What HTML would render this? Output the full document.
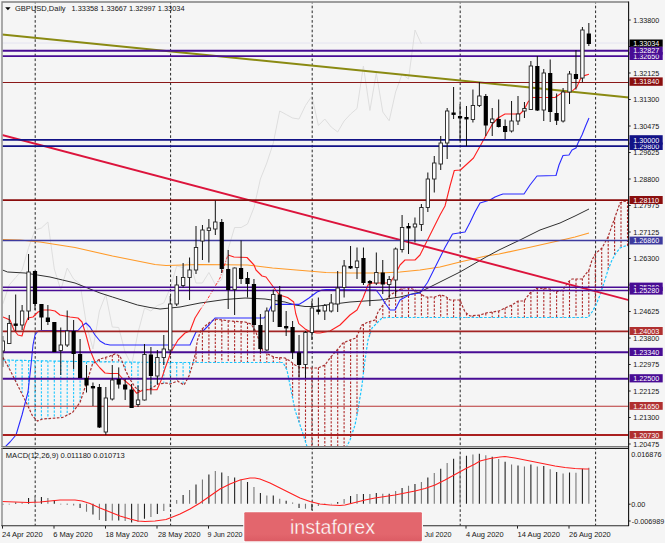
<!DOCTYPE html>
<html><head><meta charset="utf-8"><title>GBPUSD Daily</title>
<style>html,body{margin:0;padding:0;background:#f5f5f5;overflow:hidden}svg text{white-space:pre}</style></head>
<body>
<svg width="665" height="543" viewBox="0 0 665 543" style="display:block;font-family:'Liberation Sans',sans-serif">
<rect width="665" height="543" fill="#f5f5f5"/>
<defs><clipPath id="m"><rect x="2.6" y="2.6" width="625.6" height="443.4"/></clipPath><clipPath id="d"><rect x="2.6" y="449" width="625.6" height="76.4"/></clipPath></defs>
<g clip-path="url(#m)">
<line x1="2" x2="629" y1="43" y2="43" stroke="#e4e4f0" stroke-width="1"/>
<polyline points="2.8,304.0 9.2,285.0 15.7,277.5 22.1,270.0 28.6,247.5 35.0,230.0 41.4,228.0 47.9,222.0 54.3,269.0 60.8,290.0 67.2,268.0 73.6,279.0 80.1,284.0 86.5,325.0 93.0,349.0 99.4,311.0 105.8,294.5 112.3,327.0 118.7,327.5 125.2,352.5 131.6,365.0 138.0,332.5 144.5,308.0 150.9,311.0 157.4,305.5 163.8,303.0 170.2,288.0 176.7,266.0 183.1,267.5 189.6,261.0 196.0,283.0 202.4,283.0 208.9,272.5 215.3,284.5 221.8,279.5 228.2,249.0 234.6,227.5 241.1,227.5 247.5,224.0 254.0,207.5 260.4,179.0 266.8,163.0 273.3,143.0 279.7,111.0 286.2,114.5 292.6,118.0 299.0,119.0 305.5,105.5 311.9,96.0 318.4,125.5 324.8,119.0 331.2,127.0 337.7,132.0 344.1,121.0 350.6,114.0 357.0,108.5 363.4,66.0 369.9,110.5 376.3,73.0 382.8,112.0 389.2,120.8 395.6,92.0 402.1,74.0 408.5,79.0 415.0,30.0 421.4,44.0" fill="none" stroke="#dedede" stroke-width="1"/>
<line x1="35.2" x2="35.2" y1="2" y2="447" stroke="#262626" stroke-width="1" stroke-dasharray="2.6 2.2" stroke-dashoffset="1.1"/>
<line x1="170.6" x2="170.6" y1="2" y2="447" stroke="#262626" stroke-width="1" stroke-dasharray="2.6 2.2" stroke-dashoffset="1.1"/>
<line x1="312.2" x2="312.2" y1="2" y2="447" stroke="#262626" stroke-width="1" stroke-dasharray="2.6 2.2" stroke-dashoffset="1.1"/>
<line x1="460.2" x2="460.2" y1="2" y2="447" stroke="#262626" stroke-width="1" stroke-dasharray="2.6 2.2" stroke-dashoffset="1.1"/>
<line x1="595.6" x2="595.6" y1="2" y2="447" stroke="#262626" stroke-width="1" stroke-dasharray="2.6 2.2" stroke-dashoffset="1.1"/>
<line x1="2.8" x2="2.8" y1="357.5" y2="360.0" stroke="#ae2828" stroke-width="1.1" stroke-dasharray="2.3 1.5"/>
<line x1="9.2" x2="9.2" y1="360.1" y2="368.6" stroke="#1cc6ff" stroke-width="1.1" stroke-dasharray="2.3 1.5"/>
<line x1="15.7" x2="15.7" y1="360.3" y2="381.4" stroke="#1cc6ff" stroke-width="1.1" stroke-dasharray="2.3 1.5"/>
<line x1="22.1" x2="22.1" y1="360.4" y2="394.2" stroke="#1cc6ff" stroke-width="1.1" stroke-dasharray="2.3 1.5"/>
<line x1="28.6" x2="28.6" y1="360.5" y2="407.3" stroke="#1cc6ff" stroke-width="1.1" stroke-dasharray="2.3 1.5"/>
<line x1="35.0" x2="35.0" y1="360.7" y2="418.5" stroke="#1cc6ff" stroke-width="1.1" stroke-dasharray="2.3 1.5"/>
<line x1="41.4" x2="41.4" y1="360.8" y2="419.4" stroke="#1cc6ff" stroke-width="1.1" stroke-dasharray="2.3 1.5"/>
<line x1="47.9" x2="47.9" y1="360.9" y2="418.6" stroke="#1cc6ff" stroke-width="1.1" stroke-dasharray="2.3 1.5"/>
<line x1="54.3" x2="54.3" y1="361.1" y2="418.1" stroke="#1cc6ff" stroke-width="1.1" stroke-dasharray="2.3 1.5"/>
<line x1="60.8" x2="60.8" y1="361.2" y2="417.6" stroke="#1cc6ff" stroke-width="1.1" stroke-dasharray="2.3 1.5"/>
<line x1="67.2" x2="67.2" y1="361.3" y2="415.1" stroke="#1cc6ff" stroke-width="1.1" stroke-dasharray="2.3 1.5"/>
<line x1="73.6" x2="73.6" y1="361.5" y2="411.0" stroke="#1cc6ff" stroke-width="1.1" stroke-dasharray="2.3 1.5"/>
<line x1="80.1" x2="80.1" y1="361.5" y2="402.3" stroke="#1cc6ff" stroke-width="1.1" stroke-dasharray="2.3 1.5"/>
<line x1="86.5" x2="86.5" y1="361.6" y2="382.9" stroke="#1cc6ff" stroke-width="1.1" stroke-dasharray="2.3 1.5"/>
<line x1="93.0" x2="93.0" y1="361.7" y2="363.7" stroke="#1cc6ff" stroke-width="1.1" stroke-dasharray="2.3 1.5"/>
<line x1="99.4" x2="99.4" y1="359.4" y2="361.8" stroke="#ae2828" stroke-width="1.1" stroke-dasharray="2.3 1.5"/>
<line x1="105.8" x2="105.8" y1="357.2" y2="361.9" stroke="#ae2828" stroke-width="1.1" stroke-dasharray="2.3 1.5"/>
<line x1="112.3" x2="112.3" y1="355.1" y2="361.9" stroke="#ae2828" stroke-width="1.1" stroke-dasharray="2.3 1.5"/>
<line x1="118.7" x2="118.7" y1="355.5" y2="362.0" stroke="#ae2828" stroke-width="1.1" stroke-dasharray="2.3 1.5"/>
<line x1="125.2" x2="125.2" y1="362.1" y2="369.4" stroke="#1cc6ff" stroke-width="1.1" stroke-dasharray="2.3 1.5"/>
<line x1="131.6" x2="131.6" y1="362.2" y2="381.8" stroke="#1cc6ff" stroke-width="1.1" stroke-dasharray="2.3 1.5"/>
<line x1="138.0" x2="138.0" y1="362.2" y2="390.0" stroke="#1cc6ff" stroke-width="1.1" stroke-dasharray="2.3 1.5"/>
<line x1="144.5" x2="144.5" y1="362.3" y2="390.1" stroke="#1cc6ff" stroke-width="1.1" stroke-dasharray="2.3 1.5"/>
<line x1="150.9" x2="150.9" y1="362.4" y2="388.4" stroke="#1cc6ff" stroke-width="1.1" stroke-dasharray="2.3 1.5"/>
<line x1="157.4" x2="157.4" y1="362.5" y2="384.4" stroke="#1cc6ff" stroke-width="1.1" stroke-dasharray="2.3 1.5"/>
<line x1="163.8" x2="163.8" y1="362.5" y2="383.3" stroke="#1cc6ff" stroke-width="1.1" stroke-dasharray="2.3 1.5"/>
<line x1="170.2" x2="170.2" y1="362.5" y2="383.9" stroke="#1cc6ff" stroke-width="1.1" stroke-dasharray="2.3 1.5"/>
<line x1="176.7" x2="176.7" y1="362.5" y2="381.3" stroke="#1cc6ff" stroke-width="1.1" stroke-dasharray="2.3 1.5"/>
<line x1="183.1" x2="183.1" y1="362.5" y2="384.5" stroke="#1cc6ff" stroke-width="1.1" stroke-dasharray="2.3 1.5"/>
<line x1="189.6" x2="189.6" y1="362.5" y2="374.2" stroke="#1cc6ff" stroke-width="1.1" stroke-dasharray="2.3 1.5"/>
<line x1="196.0" x2="196.0" y1="349.0" y2="362.5" stroke="#ae2828" stroke-width="1.1" stroke-dasharray="2.3 1.5"/>
<line x1="202.4" x2="202.4" y1="328.7" y2="362.5" stroke="#ae2828" stroke-width="1.1" stroke-dasharray="2.3 1.5"/>
<line x1="208.9" x2="208.9" y1="323.1" y2="362.5" stroke="#ae2828" stroke-width="1.1" stroke-dasharray="2.3 1.5"/>
<line x1="215.3" x2="215.3" y1="319.0" y2="362.5" stroke="#ae2828" stroke-width="1.1" stroke-dasharray="2.3 1.5"/>
<line x1="221.8" x2="221.8" y1="319.9" y2="362.5" stroke="#ae2828" stroke-width="1.1" stroke-dasharray="2.3 1.5"/>
<line x1="228.2" x2="228.2" y1="320.8" y2="362.5" stroke="#ae2828" stroke-width="1.1" stroke-dasharray="2.3 1.5"/>
<line x1="234.6" x2="234.6" y1="321.3" y2="362.5" stroke="#ae2828" stroke-width="1.1" stroke-dasharray="2.3 1.5"/>
<line x1="241.1" x2="241.1" y1="321.7" y2="362.5" stroke="#ae2828" stroke-width="1.1" stroke-dasharray="2.3 1.5"/>
<line x1="247.5" x2="247.5" y1="322.8" y2="362.5" stroke="#ae2828" stroke-width="1.1" stroke-dasharray="2.3 1.5"/>
<line x1="254.0" x2="254.0" y1="328.4" y2="362.5" stroke="#ae2828" stroke-width="1.1" stroke-dasharray="2.3 1.5"/>
<line x1="260.4" x2="260.4" y1="344.0" y2="362.5" stroke="#ae2828" stroke-width="1.1" stroke-dasharray="2.3 1.5"/>
<line x1="266.8" x2="266.8" y1="353.5" y2="362.5" stroke="#ae2828" stroke-width="1.1" stroke-dasharray="2.3 1.5"/>
<line x1="273.3" x2="273.3" y1="356.7" y2="362.5" stroke="#ae2828" stroke-width="1.1" stroke-dasharray="2.3 1.5"/>
<line x1="279.7" x2="279.7" y1="357.7" y2="362.5" stroke="#ae2828" stroke-width="1.1" stroke-dasharray="2.3 1.5"/>
<line x1="286.2" x2="286.2" y1="358.7" y2="368.4" stroke="#ae2828" stroke-width="1.1" stroke-dasharray="2.3 1.5"/>
<line x1="292.6" x2="292.6" y1="363.1" y2="398.0" stroke="#ae2828" stroke-width="1.1" stroke-dasharray="2.3 1.5"/>
<line x1="299.0" x2="299.0" y1="367.0" y2="422.1" stroke="#ae2828" stroke-width="1.1" stroke-dasharray="2.3 1.5"/>
<line x1="305.5" x2="305.5" y1="367.8" y2="441.6" stroke="#ae2828" stroke-width="1.1" stroke-dasharray="2.3 1.5"/>
<line x1="311.9" x2="311.9" y1="368.0" y2="454.4" stroke="#ae2828" stroke-width="1.1" stroke-dasharray="2.3 1.5"/>
<line x1="318.4" x2="318.4" y1="367.8" y2="461.5" stroke="#ae2828" stroke-width="1.1" stroke-dasharray="2.3 1.5"/>
<line x1="324.8" x2="324.8" y1="365.1" y2="468.7" stroke="#ae2828" stroke-width="1.1" stroke-dasharray="2.3 1.5"/>
<line x1="331.2" x2="331.2" y1="356.6" y2="464.5" stroke="#ae2828" stroke-width="1.1" stroke-dasharray="2.3 1.5"/>
<line x1="337.7" x2="337.7" y1="349.2" y2="457.7" stroke="#ae2828" stroke-width="1.1" stroke-dasharray="2.3 1.5"/>
<line x1="344.1" x2="344.1" y1="342.5" y2="450.9" stroke="#ae2828" stroke-width="1.1" stroke-dasharray="2.3 1.5"/>
<line x1="350.6" x2="350.6" y1="339.8" y2="438.3" stroke="#ae2828" stroke-width="1.1" stroke-dasharray="2.3 1.5"/>
<line x1="357.0" x2="357.0" y1="335.8" y2="415.0" stroke="#ae2828" stroke-width="1.1" stroke-dasharray="2.3 1.5"/>
<line x1="363.4" x2="363.4" y1="324.3" y2="373.0" stroke="#ae2828" stroke-width="1.1" stroke-dasharray="2.3 1.5"/>
<line x1="369.9" x2="369.9" y1="321.5" y2="334.4" stroke="#ae2828" stroke-width="1.1" stroke-dasharray="2.3 1.5"/>
<line x1="376.3" x2="376.3" y1="316.5" y2="323.7" stroke="#ae2828" stroke-width="1.1" stroke-dasharray="2.3 1.5"/>
<line x1="382.8" x2="382.8" y1="305.3" y2="317.9" stroke="#ae2828" stroke-width="1.1" stroke-dasharray="2.3 1.5"/>
<line x1="389.2" x2="389.2" y1="296.1" y2="317.5" stroke="#ae2828" stroke-width="1.1" stroke-dasharray="2.3 1.5"/>
<line x1="395.6" x2="395.6" y1="291.8" y2="317.5" stroke="#ae2828" stroke-width="1.1" stroke-dasharray="2.3 1.5"/>
<line x1="402.1" x2="402.1" y1="288.5" y2="317.5" stroke="#ae2828" stroke-width="1.1" stroke-dasharray="2.3 1.5"/>
<line x1="408.5" x2="408.5" y1="288.0" y2="317.5" stroke="#ae2828" stroke-width="1.1" stroke-dasharray="2.3 1.5"/>
<line x1="415.0" x2="415.0" y1="290.0" y2="317.5" stroke="#ae2828" stroke-width="1.1" stroke-dasharray="2.3 1.5"/>
<line x1="421.4" x2="421.4" y1="294.1" y2="317.5" stroke="#ae2828" stroke-width="1.1" stroke-dasharray="2.3 1.5"/>
<line x1="427.8" x2="427.8" y1="297.0" y2="317.5" stroke="#ae2828" stroke-width="1.1" stroke-dasharray="2.3 1.5"/>
<line x1="434.3" x2="434.3" y1="297.0" y2="317.5" stroke="#ae2828" stroke-width="1.1" stroke-dasharray="2.3 1.5"/>
<line x1="440.7" x2="440.7" y1="295.1" y2="317.5" stroke="#ae2828" stroke-width="1.1" stroke-dasharray="2.3 1.5"/>
<line x1="447.2" x2="447.2" y1="297.7" y2="317.5" stroke="#ae2828" stroke-width="1.1" stroke-dasharray="2.3 1.5"/>
<line x1="453.6" x2="453.6" y1="300.0" y2="317.5" stroke="#ae2828" stroke-width="1.1" stroke-dasharray="2.3 1.5"/>
<line x1="460.0" x2="460.0" y1="300.1" y2="317.5" stroke="#ae2828" stroke-width="1.1" stroke-dasharray="2.3 1.5"/>
<line x1="466.5" x2="466.5" y1="313.2" y2="317.5" stroke="#ae2828" stroke-width="1.1" stroke-dasharray="2.3 1.5"/>
<line x1="472.9" x2="472.9" y1="315.7" y2="317.5" stroke="#ae2828" stroke-width="1.1" stroke-dasharray="2.3 1.5"/>
<line x1="479.4" x2="479.4" y1="315.1" y2="317.5" stroke="#ae2828" stroke-width="1.1" stroke-dasharray="2.3 1.5"/>
<line x1="485.8" x2="485.8" y1="313.1" y2="317.5" stroke="#ae2828" stroke-width="1.1" stroke-dasharray="2.3 1.5"/>
<line x1="492.2" x2="492.2" y1="312.0" y2="317.5" stroke="#ae2828" stroke-width="1.1" stroke-dasharray="2.3 1.5"/>
<line x1="498.7" x2="498.7" y1="311.0" y2="317.5" stroke="#ae2828" stroke-width="1.1" stroke-dasharray="2.3 1.5"/>
<line x1="505.1" x2="505.1" y1="307.9" y2="317.5" stroke="#ae2828" stroke-width="1.1" stroke-dasharray="2.3 1.5"/>
<line x1="511.6" x2="511.6" y1="305.2" y2="317.5" stroke="#ae2828" stroke-width="1.1" stroke-dasharray="2.3 1.5"/>
<line x1="518.0" x2="518.0" y1="301.0" y2="317.5" stroke="#ae2828" stroke-width="1.1" stroke-dasharray="2.3 1.5"/>
<line x1="524.4" x2="524.4" y1="300.4" y2="317.5" stroke="#ae2828" stroke-width="1.1" stroke-dasharray="2.3 1.5"/>
<line x1="530.9" x2="530.9" y1="292.4" y2="317.5" stroke="#ae2828" stroke-width="1.1" stroke-dasharray="2.3 1.5"/>
<line x1="537.3" x2="537.3" y1="288.0" y2="317.5" stroke="#ae2828" stroke-width="1.1" stroke-dasharray="2.3 1.5"/>
<line x1="543.8" x2="543.8" y1="288.5" y2="317.5" stroke="#ae2828" stroke-width="1.1" stroke-dasharray="2.3 1.5"/>
<line x1="550.2" x2="550.2" y1="289.1" y2="317.5" stroke="#ae2828" stroke-width="1.1" stroke-dasharray="2.3 1.5"/>
<line x1="556.6" x2="556.6" y1="291.8" y2="317.5" stroke="#ae2828" stroke-width="1.1" stroke-dasharray="2.3 1.5"/>
<line x1="563.1" x2="563.1" y1="289.9" y2="317.5" stroke="#ae2828" stroke-width="1.1" stroke-dasharray="2.3 1.5"/>
<line x1="569.5" x2="569.5" y1="280.9" y2="317.5" stroke="#ae2828" stroke-width="1.1" stroke-dasharray="2.3 1.5"/>
<line x1="576.0" x2="576.0" y1="279.0" y2="317.5" stroke="#ae2828" stroke-width="1.1" stroke-dasharray="2.3 1.5"/>
<line x1="582.4" x2="582.4" y1="278.5" y2="317.5" stroke="#ae2828" stroke-width="1.1" stroke-dasharray="2.3 1.5"/>
<line x1="588.8" x2="588.8" y1="270.2" y2="316.3" stroke="#ae2828" stroke-width="1.1" stroke-dasharray="2.3 1.5"/>
<line x1="595.3" x2="595.3" y1="254.3" y2="306.3" stroke="#ae2828" stroke-width="1.1" stroke-dasharray="2.3 1.5"/>
<line x1="601.7" x2="601.7" y1="248.2" y2="289.8" stroke="#ae2828" stroke-width="1.1" stroke-dasharray="2.3 1.5"/>
<line x1="608.2" x2="608.2" y1="236.5" y2="269.6" stroke="#ae2828" stroke-width="1.1" stroke-dasharray="2.3 1.5"/>
<line x1="614.6" x2="614.6" y1="218.3" y2="255.4" stroke="#ae2828" stroke-width="1.1" stroke-dasharray="2.3 1.5"/>
<line x1="621.0" x2="621.0" y1="202.6" y2="247.6" stroke="#ae2828" stroke-width="1.1" stroke-dasharray="2.3 1.5"/>
<line x1="627.5" x2="627.5" y1="201.8" y2="246.0" stroke="#ae2828" stroke-width="1.1" stroke-dasharray="2.3 1.5"/>
<polyline points="3.0,360.0 76.0,361.5 160.0,362.5 283.0,362.5 287.0,370.0 290.0,385.0 295.0,410.0 300.0,425.0 305.0,440.0 308.0,450.0 326.0,470.0 345.0,450.0 350.0,440.0 355.0,425.0 358.0,410.0 362.0,385.0 365.0,360.0 368.0,340.0 372.0,328.0 378.0,322.0 382.0,318.0 388.0,317.5 588.0,317.5 592.0,312.0 596.0,305.0 600.0,295.0 604.0,283.0 608.0,270.0 612.0,260.0 616.0,253.0 620.0,248.0 625.0,246.0 628.0,246.0" fill="none" stroke="#1cc6ff" stroke-width="1.2" stroke-dasharray="2.6 1.6"/>
<polyline points="3.0,357.5 10.0,370.0 20.0,390.0 27.5,405.0 32.5,416.0 37.5,421.0 42.5,419.0 62.5,417.5 72.5,412.5 80.0,402.5 87.5,380.0 92.5,364.0 100.0,359.0 110.0,356.0 115.0,354.0 120.0,356.0 125.6,370.5 129.6,378.6 134.7,386.7 138.7,390.7 146.0,390.0 152.0,388.0 158.0,384.0 166.0,383.0 170.0,384.0 177.5,381.0 184.0,385.0 189.0,376.0 192.5,365.0 195.0,355.0 197.5,340.0 201.0,330.0 207.5,324.0 215.0,319.0 230.0,321.0 245.0,322.0 251.0,324.0 255.0,330.0 259.0,340.0 262.5,350.0 267.5,354.0 275.0,357.5 285.0,358.0 290.0,361.0 295.0,365.0 300.0,367.5 310.0,368.0 318.0,368.0 325.0,365.0 330.0,358.0 337.0,350.0 343.0,343.0 350.0,340.0 356.0,338.0 362.0,325.0 368.0,322.0 375.0,320.0 378.0,312.0 383.0,305.0 390.0,295.0 397.0,291.0 403.0,288.0 410.0,288.0 415.0,290.0 420.0,293.0 425.0,297.0 435.0,297.0 440.0,295.0 445.0,296.0 450.0,300.0 460.0,300.0 462.0,305.0 465.0,312.0 470.0,316.0 480.0,315.0 486.0,313.0 499.0,311.0 505.0,308.0 512.0,305.0 518.0,301.0 524.0,301.0 530.0,293.0 537.0,288.0 550.0,289.0 556.0,292.0 563.0,290.0 568.0,282.0 572.0,279.0 582.0,279.0 585.0,275.0 589.0,270.0 592.0,260.0 596.0,253.0 602.0,248.0 608.0,237.0 614.0,220.0 620.0,203.0 625.0,201.0 628.0,202.0" fill="none" stroke="#a83030" stroke-width="1.2" stroke-dasharray="2.6 1.6"/>
<polyline points="2.5,239.5 20.0,240.0 40.0,242.0 75.0,247.5 112.5,256.0 137.5,261.0 155.0,264.5 166.0,265.5 200.0,264.5 247.5,265.0 272.5,268.0 326.0,272.5 350.0,273.0 380.0,273.0 400.0,272.0 420.0,270.0 440.0,267.0 460.0,262.0 486.0,256.0 499.0,254.0 520.0,249.5 540.0,245.0 560.0,240.5 575.0,237.0 589.0,233.0" fill="none" stroke="#ff9a28" stroke-width="1.1"/>
<polyline points="2.5,270.0 7.5,272.0 25.0,273.0 37.5,275.0 50.0,277.0 62.5,280.0 75.0,283.0 87.5,288.0 100.0,293.0 112.5,297.0 125.0,301.0 137.5,305.0 150.0,307.5 160.0,309.0 180.0,307.0 200.0,303.0 225.0,299.5 245.0,298.0 265.0,299.0 285.0,302.0 295.0,305.0 305.0,306.5 315.0,306.5 326.0,305.0 350.0,302.0 380.0,300.0 400.0,297.0 420.0,292.0 440.0,282.0 460.0,272.0 486.0,257.0 499.0,250.0 520.0,240.0 540.0,230.0 560.0,223.0 575.0,216.0 589.0,209.0" fill="none" stroke="#303030" stroke-width="1"/>
<polyline points="5.0,447.0 10.0,442.0 16.0,435.0 22.0,415.0 28.0,392.0 31.0,365.0 33.0,345.0 35.0,335.0 38.0,331.0 42.0,330.5 78.0,330.5 82.0,326.0 86.0,323.0 90.0,327.0 95.0,335.0 100.0,341.0 105.0,344.0 110.0,345.0 190.0,345.0 196.0,332.0 203.0,331.0 209.0,325.0 215.0,318.0 264.0,318.0 268.0,313.0 272.0,304.4 298.8,304.4 303.0,302.0 309.0,298.0 317.0,292.0 322.0,290.0 326.0,289.5 376.0,290.0 380.0,295.0 385.0,303.0 390.0,310.0 395.0,310.0 400.0,300.0 410.0,294.5 420.0,293.0 427.5,282.5 437.5,262.5 445.0,247.5 452.5,234.0 465.0,232.0 470.0,222.5 475.0,212.0 480.0,203.0 490.0,200.0 495.0,197.0 500.0,195.0 503.0,194.0 524.0,194.0 530.0,185.0 537.0,176.0 556.0,175.5 559.0,165.0 563.0,155.5 569.0,155.0 572.0,150.0 576.0,148.0 578.0,143.0 582.0,135.0 586.0,125.0 589.0,118.0" fill="none" stroke="#2a2aff" stroke-width="1.1" stroke-linejoin="round"/>
<polyline points="3.0,317.0 10.0,320.0 14.0,330.0 18.0,335.0 22.0,336.0 25.0,325.0 28.0,318.0 33.0,317.0 38.0,312.0 43.0,310.0 50.0,310.0 55.0,311.0 60.0,315.0 70.0,317.0 78.0,318.0 82.0,322.0 86.0,335.0 90.0,350.0 95.0,362.0 100.0,368.0 105.0,373.0 110.0,373.5 118.0,373.5 124.0,380.0 130.7,385.7 136.7,393.3 141.0,391.0 146.0,389.7 157.0,389.7 161.0,380.6 165.0,368.5 171.0,352.0 178.0,340.0 185.0,333.0 190.0,331.0 195.0,318.0 200.0,310.0" fill="none" stroke="#ff2020" stroke-width="1.1" stroke-linejoin="round"/>
<polyline points="200.0,310.0 207.0,300.0 213.0,290.0 220.0,278.0 228.0,255.0" fill="none" stroke="#ff2020" stroke-width="0.9" stroke-dasharray="3 1.6 1 1.6"/>
<polyline points="228.0,255.0 234.0,257.0 247.0,257.5 254.0,265.0 256.0,270.0 262.0,276.0 266.0,277.0 273.4,287.0 279.5,295.0 287.6,297.5 293.7,302.0 295.7,313.5 298.8,323.6 304.8,328.7 310.0,331.7 317.0,333.0 320.0,333.0 330.0,331.0 340.0,325.0 350.0,315.0 357.0,310.0 363.0,298.0 368.0,285.0 372.0,283.0 390.0,283.0 395.0,275.0 400.0,265.0 405.0,260.0 415.0,260.0 420.0,255.0 425.0,245.0 430.0,235.0 435.0,225.0 440.0,215.0 445.0,206.0 450.0,186.0 454.3,170.5 460.4,170.0 467.0,164.0 473.5,158.0 481.0,144.5 488.7,130.6 492.8,123.5 498.0,118.0 505.0,114.0 520.0,114.0 524.0,110.0 528.0,102.0 532.0,97.5 555.0,97.5 562.5,92.4 571.5,91.7 576.7,87.2 580.5,78.8 584.4,75.6 589.0,74.2" fill="none" stroke="#ff2020" stroke-width="1.1" stroke-linejoin="round"/>
<line x1="2" y1="34.5" x2="629" y2="97.4" stroke="#8a8a12" stroke-width="2"/>
<line x1="2" y1="135" x2="629" y2="300.2" stroke="#dc143c" stroke-width="1.9"/>
<line x1="2" x2="629" y1="50.7" y2="50.7" stroke="#480c94" stroke-width="1.9"/>
<line x1="2" x2="629" y1="56.1" y2="56.1" stroke="#480c94" stroke-width="1.9"/>
<line x1="2" x2="629" y1="82.5" y2="82.5" stroke="#8a1818" stroke-width="1.1"/>
<line x1="2" x2="629" y1="139.9" y2="139.9" stroke="#121286" stroke-width="1.8"/>
<line x1="2" x2="629" y1="146.1" y2="146.1" stroke="#121286" stroke-width="1.6"/>
<line x1="2" x2="629" y1="200.2" y2="200.2" stroke="#8a0c0c" stroke-width="1.8"/>
<line x1="2" x2="629" y1="240.6" y2="240.6" stroke="#3d3a9e" stroke-width="1.5"/>
<line x1="2" x2="629" y1="287.2" y2="287.2" stroke="#480c94" stroke-width="1.5"/>
<line x1="2" x2="629" y1="290.5" y2="290.5" stroke="#480c94" stroke-width="1.5"/>
<line x1="2" x2="629" y1="331.4" y2="331.4" stroke="#a22424" stroke-width="1.7"/>
<line x1="2" x2="629" y1="352.2" y2="352.2" stroke="#480c94" stroke-width="2.0"/>
<line x1="2" x2="629" y1="378.8" y2="378.8" stroke="#480c94" stroke-width="2.0"/>
<line x1="2" x2="629" y1="406.2" y2="406.2" stroke="#b83434" stroke-width="1.1"/>
<line x1="2" x2="629" y1="435" y2="435" stroke="#aa2020" stroke-width="2.0"/>
<line x1="2.80" x2="2.80" y1="336.0" y2="367.0" stroke="#111" stroke-width="1"/>
<rect x="1.10" y="341.0" width="3.4" height="10.0" fill="#fff" stroke="#222" stroke-width="0.9"/>
<line x1="9.24" x2="9.24" y1="315.0" y2="344.0" stroke="#111" stroke-width="1"/>
<rect x="7.54" y="323.5" width="3.4" height="20.0" fill="#fff" stroke="#222" stroke-width="0.9"/>
<line x1="15.68" x2="15.68" y1="294.5" y2="331.0" stroke="#111" stroke-width="1"/>
<rect x="13.58" y="323.5" width="4.2" height="2.4" fill="#000"/>
<line x1="22.12" x2="22.12" y1="305.0" y2="330.0" stroke="#111" stroke-width="1"/>
<rect x="20.42" y="311.0" width="3.4" height="14.0" fill="#fff" stroke="#222" stroke-width="0.9"/>
<line x1="28.56" x2="28.56" y1="254.0" y2="320.0" stroke="#111" stroke-width="1"/>
<rect x="26.86" y="272.0" width="3.4" height="39.0" fill="#fff" stroke="#222" stroke-width="0.9"/>
<line x1="35.00" x2="35.00" y1="271.0" y2="310.0" stroke="#111" stroke-width="1"/>
<rect x="32.90" y="271.0" width="4.2" height="33.0" fill="#000"/>
<line x1="41.44" x2="41.44" y1="304.0" y2="330.0" stroke="#111" stroke-width="1"/>
<rect x="39.34" y="304.0" width="4.2" height="13.5" fill="#000"/>
<line x1="47.88" x2="47.88" y1="305.0" y2="325.0" stroke="#111" stroke-width="1"/>
<rect x="45.78" y="317.5" width="4.2" height="4.5" fill="#000"/>
<line x1="54.32" x2="54.32" y1="322.0" y2="352.0" stroke="#111" stroke-width="1"/>
<rect x="52.22" y="322.0" width="4.2" height="30.0" fill="#000"/>
<line x1="60.76" x2="60.76" y1="327.5" y2="375.0" stroke="#111" stroke-width="1"/>
<rect x="59.06" y="345.0" width="3.4" height="5.5" fill="#fff" stroke="#222" stroke-width="0.9"/>
<line x1="67.20" x2="67.20" y1="310.5" y2="347.0" stroke="#111" stroke-width="1"/>
<rect x="65.50" y="331.0" width="3.4" height="14.0" fill="#fff" stroke="#222" stroke-width="0.9"/>
<line x1="73.64" x2="73.64" y1="320.0" y2="369.0" stroke="#111" stroke-width="1"/>
<rect x="71.54" y="331.0" width="4.2" height="23.0" fill="#000"/>
<line x1="80.08" x2="80.08" y1="339.0" y2="378.0" stroke="#111" stroke-width="1"/>
<rect x="77.98" y="354.0" width="4.2" height="24.0" fill="#000"/>
<line x1="86.52" x2="86.52" y1="365.0" y2="392.5" stroke="#111" stroke-width="1"/>
<rect x="84.42" y="378.0" width="4.2" height="7.5" fill="#000"/>
<line x1="92.96" x2="92.96" y1="382.5" y2="406.0" stroke="#111" stroke-width="1"/>
<rect x="90.86" y="386.0" width="4.2" height="2.4" fill="#000"/>
<line x1="99.40" x2="99.40" y1="384.0" y2="428.0" stroke="#111" stroke-width="1"/>
<rect x="97.30" y="387.0" width="4.2" height="40.5" fill="#000"/>
<line x1="105.84" x2="105.84" y1="387.0" y2="435.0" stroke="#111" stroke-width="1"/>
<rect x="104.14" y="398.0" width="3.4" height="34.0" fill="#fff" stroke="#222" stroke-width="0.9"/>
<line x1="112.28" x2="112.28" y1="365.0" y2="400.5" stroke="#111" stroke-width="1"/>
<rect x="110.58" y="380.0" width="3.4" height="19.0" fill="#fff" stroke="#222" stroke-width="0.9"/>
<line x1="118.72" x2="118.72" y1="367.4" y2="388.6" stroke="#111" stroke-width="1"/>
<rect x="116.62" y="379.0" width="4.2" height="5.6" fill="#000"/>
<line x1="125.16" x2="125.16" y1="379.0" y2="400.0" stroke="#111" stroke-width="1"/>
<rect x="123.06" y="384.5" width="4.2" height="5.0" fill="#000"/>
<line x1="131.60" x2="131.60" y1="384.0" y2="408.0" stroke="#111" stroke-width="1"/>
<rect x="129.50" y="389.5" width="4.2" height="18.5" fill="#000"/>
<line x1="138.04" x2="138.04" y1="385.5" y2="407.0" stroke="#111" stroke-width="1"/>
<rect x="136.34" y="400.0" width="3.4" height="4.5" fill="#fff" stroke="#222" stroke-width="0.9"/>
<line x1="144.48" x2="144.48" y1="344.0" y2="400.5" stroke="#111" stroke-width="1"/>
<rect x="142.78" y="354.5" width="3.4" height="45.5" fill="#fff" stroke="#222" stroke-width="0.9"/>
<line x1="150.92" x2="150.92" y1="347.0" y2="394.5" stroke="#111" stroke-width="1"/>
<rect x="148.82" y="354.5" width="4.2" height="21.5" fill="#000"/>
<line x1="157.36" x2="157.36" y1="350.0" y2="384.5" stroke="#111" stroke-width="1"/>
<rect x="155.66" y="357.5" width="3.4" height="18.5" fill="#fff" stroke="#222" stroke-width="0.9"/>
<line x1="163.80" x2="163.80" y1="335.0" y2="365.0" stroke="#111" stroke-width="1"/>
<rect x="162.10" y="349.0" width="3.4" height="8.5" fill="#fff" stroke="#222" stroke-width="0.9"/>
<line x1="170.24" x2="170.24" y1="296.0" y2="355.0" stroke="#111" stroke-width="1"/>
<rect x="168.54" y="304.0" width="3.4" height="46.0" fill="#fff" stroke="#222" stroke-width="0.9"/>
<line x1="176.68" x2="176.68" y1="276.0" y2="306.0" stroke="#111" stroke-width="1"/>
<rect x="174.98" y="285.0" width="3.4" height="19.0" fill="#fff" stroke="#222" stroke-width="0.9"/>
<line x1="183.12" x2="183.12" y1="263.0" y2="287.5" stroke="#111" stroke-width="1"/>
<rect x="181.42" y="277.5" width="3.4" height="8.0" fill="#fff" stroke="#222" stroke-width="0.9"/>
<line x1="189.56" x2="189.56" y1="257.5" y2="300.0" stroke="#111" stroke-width="1"/>
<rect x="187.86" y="270.0" width="3.4" height="7.5" fill="#fff" stroke="#222" stroke-width="0.9"/>
<line x1="196.00" x2="196.00" y1="226.0" y2="274.0" stroke="#111" stroke-width="1"/>
<rect x="194.30" y="247.5" width="3.4" height="22.5" fill="#fff" stroke="#222" stroke-width="0.9"/>
<line x1="202.44" x2="202.44" y1="225.0" y2="260.0" stroke="#111" stroke-width="1"/>
<rect x="200.74" y="230.0" width="3.4" height="11.0" fill="#fff" stroke="#222" stroke-width="0.9"/>
<line x1="208.88" x2="208.88" y1="219.0" y2="262.5" stroke="#111" stroke-width="1"/>
<rect x="207.18" y="228.0" width="3.4" height="2.4" fill="#fff" stroke="#222" stroke-width="0.9"/>
<line x1="215.32" x2="215.32" y1="200.5" y2="235.0" stroke="#111" stroke-width="1"/>
<rect x="213.62" y="222.0" width="3.4" height="7.0" fill="#fff" stroke="#222" stroke-width="0.9"/>
<line x1="221.76" x2="221.76" y1="219.0" y2="273.0" stroke="#111" stroke-width="1"/>
<rect x="219.66" y="222.0" width="4.2" height="47.0" fill="#000"/>
<line x1="228.20" x2="228.20" y1="250.0" y2="309.0" stroke="#111" stroke-width="1"/>
<rect x="226.10" y="269.0" width="4.2" height="21.0" fill="#000"/>
<line x1="234.64" x2="234.64" y1="267.5" y2="315.0" stroke="#111" stroke-width="1"/>
<rect x="232.94" y="268.0" width="3.4" height="21.5" fill="#fff" stroke="#222" stroke-width="0.9"/>
<line x1="241.08" x2="241.08" y1="240.5" y2="284.0" stroke="#111" stroke-width="1"/>
<rect x="238.98" y="268.0" width="4.2" height="11.0" fill="#000"/>
<line x1="247.52" x2="247.52" y1="272.0" y2="297.5" stroke="#111" stroke-width="1"/>
<rect x="245.42" y="278.0" width="4.2" height="6.0" fill="#000"/>
<line x1="253.96" x2="253.96" y1="279.0" y2="331.0" stroke="#111" stroke-width="1"/>
<rect x="251.86" y="284.0" width="4.2" height="41.0" fill="#000"/>
<line x1="260.40" x2="260.40" y1="314.0" y2="352.5" stroke="#111" stroke-width="1"/>
<rect x="258.30" y="325.0" width="4.2" height="24.0" fill="#000"/>
<line x1="266.84" x2="266.84" y1="307.5" y2="351.0" stroke="#111" stroke-width="1"/>
<rect x="265.14" y="311.0" width="3.4" height="39.0" fill="#fff" stroke="#222" stroke-width="0.9"/>
<line x1="273.28" x2="273.28" y1="289.5" y2="322.0" stroke="#111" stroke-width="1"/>
<rect x="271.58" y="294.5" width="3.4" height="16.5" fill="#fff" stroke="#222" stroke-width="0.9"/>
<line x1="279.72" x2="279.72" y1="286.0" y2="327.0" stroke="#111" stroke-width="1"/>
<rect x="277.62" y="294.5" width="4.2" height="32.5" fill="#000"/>
<line x1="286.16" x2="286.16" y1="311.0" y2="336.0" stroke="#111" stroke-width="1"/>
<rect x="284.06" y="326.0" width="4.2" height="2.4" fill="#000"/>
<line x1="292.60" x2="292.60" y1="321.0" y2="359.0" stroke="#111" stroke-width="1"/>
<rect x="290.50" y="327.0" width="4.2" height="25.5" fill="#000"/>
<line x1="299.04" x2="299.04" y1="335.0" y2="377.5" stroke="#111" stroke-width="1"/>
<rect x="296.94" y="352.5" width="4.2" height="12.5" fill="#000"/>
<line x1="305.48" x2="305.48" y1="331.0" y2="378.0" stroke="#111" stroke-width="1"/>
<rect x="303.78" y="332.5" width="3.4" height="32.0" fill="#fff" stroke="#222" stroke-width="0.9"/>
<line x1="311.92" x2="311.92" y1="301.0" y2="340.0" stroke="#111" stroke-width="1"/>
<rect x="310.22" y="308.0" width="3.4" height="24.5" fill="#fff" stroke="#222" stroke-width="0.9"/>
<line x1="318.36" x2="318.36" y1="297.5" y2="314.5" stroke="#111" stroke-width="1"/>
<rect x="316.26" y="309.5" width="4.2" height="2.4" fill="#000"/>
<line x1="324.80" x2="324.80" y1="304.0" y2="320.0" stroke="#111" stroke-width="1"/>
<rect x="323.10" y="305.5" width="3.4" height="5.5" fill="#fff" stroke="#222" stroke-width="0.9"/>
<line x1="331.24" x2="331.24" y1="294.0" y2="312.5" stroke="#111" stroke-width="1"/>
<rect x="329.54" y="303.0" width="3.4" height="8.0" fill="#fff" stroke="#222" stroke-width="0.9"/>
<line x1="337.68" x2="337.68" y1="271.0" y2="312.0" stroke="#111" stroke-width="1"/>
<rect x="335.98" y="288.0" width="3.4" height="16.0" fill="#fff" stroke="#222" stroke-width="0.9"/>
<line x1="344.12" x2="344.12" y1="260.0" y2="297.5" stroke="#111" stroke-width="1"/>
<rect x="342.42" y="266.0" width="3.4" height="21.5" fill="#fff" stroke="#222" stroke-width="0.9"/>
<line x1="350.56" x2="350.56" y1="246.0" y2="269.0" stroke="#111" stroke-width="1"/>
<rect x="348.46" y="266.0" width="4.2" height="2.4" fill="#000"/>
<line x1="357.00" x2="357.00" y1="247.5" y2="279.0" stroke="#111" stroke-width="1"/>
<rect x="355.30" y="261.0" width="3.4" height="6.5" fill="#fff" stroke="#222" stroke-width="0.9"/>
<line x1="363.44" x2="363.44" y1="247.5" y2="285.0" stroke="#111" stroke-width="1"/>
<rect x="361.34" y="258.0" width="4.2" height="25.0" fill="#000"/>
<line x1="369.88" x2="369.88" y1="280.0" y2="306.0" stroke="#111" stroke-width="1"/>
<rect x="367.78" y="281.0" width="4.2" height="2.4" fill="#000"/>
<line x1="376.32" x2="376.32" y1="252.5" y2="285.0" stroke="#111" stroke-width="1"/>
<rect x="374.62" y="272.5" width="3.4" height="10.5" fill="#fff" stroke="#222" stroke-width="0.9"/>
<line x1="382.76" x2="382.76" y1="260.0" y2="294.0" stroke="#111" stroke-width="1"/>
<rect x="380.66" y="272.5" width="4.2" height="12.0" fill="#000"/>
<line x1="389.20" x2="389.20" y1="276.0" y2="297.5" stroke="#111" stroke-width="1"/>
<rect x="387.50" y="279.5" width="3.4" height="5.0" fill="#fff" stroke="#222" stroke-width="0.9"/>
<line x1="395.64" x2="395.64" y1="247.5" y2="296.0" stroke="#111" stroke-width="1"/>
<rect x="393.94" y="249.0" width="3.4" height="31.0" fill="#fff" stroke="#222" stroke-width="0.9"/>
<line x1="402.08" x2="402.08" y1="215.0" y2="252.5" stroke="#111" stroke-width="1"/>
<rect x="400.38" y="227.5" width="3.4" height="22.0" fill="#fff" stroke="#222" stroke-width="0.9"/>
<line x1="408.52" x2="408.52" y1="223.0" y2="254.0" stroke="#111" stroke-width="1"/>
<rect x="406.42" y="226.0" width="4.2" height="2.4" fill="#000"/>
<line x1="414.96" x2="414.96" y1="217.5" y2="242.5" stroke="#111" stroke-width="1"/>
<rect x="413.26" y="224.0" width="3.4" height="3.0" fill="#fff" stroke="#222" stroke-width="0.9"/>
<line x1="421.40" x2="421.40" y1="204.0" y2="231.0" stroke="#111" stroke-width="1"/>
<rect x="419.70" y="207.5" width="3.4" height="17.0" fill="#fff" stroke="#222" stroke-width="0.9"/>
<line x1="427.84" x2="427.84" y1="172.5" y2="212.0" stroke="#111" stroke-width="1"/>
<rect x="426.14" y="179.0" width="3.4" height="28.5" fill="#fff" stroke="#222" stroke-width="0.9"/>
<line x1="434.28" x2="434.28" y1="156.0" y2="192.5" stroke="#111" stroke-width="1"/>
<rect x="432.58" y="163.0" width="3.4" height="16.0" fill="#fff" stroke="#222" stroke-width="0.9"/>
<line x1="440.72" x2="440.72" y1="136.0" y2="170.0" stroke="#111" stroke-width="1"/>
<rect x="439.02" y="143.0" width="3.4" height="21.0" fill="#fff" stroke="#222" stroke-width="0.9"/>
<line x1="447.16" x2="447.16" y1="108.0" y2="159.0" stroke="#111" stroke-width="1"/>
<rect x="445.46" y="111.0" width="3.4" height="32.0" fill="#fff" stroke="#222" stroke-width="0.9"/>
<line x1="453.60" x2="453.60" y1="87.0" y2="119.0" stroke="#111" stroke-width="1"/>
<rect x="451.50" y="112.5" width="4.2" height="2.4" fill="#000"/>
<line x1="460.04" x2="460.04" y1="104.0" y2="141.0" stroke="#111" stroke-width="1"/>
<rect x="457.94" y="116.0" width="4.2" height="2.4" fill="#000"/>
<line x1="466.48" x2="466.48" y1="106.0" y2="146.0" stroke="#111" stroke-width="1"/>
<rect x="464.38" y="117.0" width="4.2" height="2.4" fill="#000"/>
<line x1="472.92" x2="472.92" y1="89.5" y2="122.5" stroke="#111" stroke-width="1"/>
<rect x="471.22" y="105.5" width="3.4" height="14.0" fill="#fff" stroke="#222" stroke-width="0.9"/>
<line x1="479.36" x2="479.36" y1="82.0" y2="107.0" stroke="#111" stroke-width="1"/>
<rect x="477.66" y="96.0" width="3.4" height="9.5" fill="#fff" stroke="#222" stroke-width="0.9"/>
<line x1="485.80" x2="485.80" y1="94.0" y2="136.0" stroke="#111" stroke-width="1"/>
<rect x="483.70" y="96.0" width="4.2" height="29.5" fill="#000"/>
<line x1="492.24" x2="492.24" y1="108.0" y2="136.0" stroke="#111" stroke-width="1"/>
<rect x="490.54" y="119.0" width="3.4" height="3.5" fill="#fff" stroke="#222" stroke-width="0.9"/>
<line x1="498.68" x2="498.68" y1="99.5" y2="127.5" stroke="#111" stroke-width="1"/>
<rect x="496.58" y="119.0" width="4.2" height="8.0" fill="#000"/>
<line x1="505.12" x2="505.12" y1="119.5" y2="139.0" stroke="#111" stroke-width="1"/>
<rect x="503.02" y="126.0" width="4.2" height="6.0" fill="#000"/>
<line x1="511.56" x2="511.56" y1="101.0" y2="132.5" stroke="#111" stroke-width="1"/>
<rect x="509.86" y="121.0" width="3.4" height="10.0" fill="#fff" stroke="#222" stroke-width="0.9"/>
<line x1="518.00" x2="518.00" y1="96.0" y2="125.0" stroke="#111" stroke-width="1"/>
<rect x="516.30" y="114.0" width="3.4" height="7.0" fill="#fff" stroke="#222" stroke-width="0.9"/>
<line x1="524.44" x2="524.44" y1="102.0" y2="118.0" stroke="#111" stroke-width="1"/>
<rect x="522.74" y="108.5" width="3.4" height="2.5" fill="#fff" stroke="#222" stroke-width="0.9"/>
<line x1="530.88" x2="530.88" y1="61.0" y2="110.0" stroke="#111" stroke-width="1"/>
<rect x="529.18" y="66.0" width="3.4" height="43.5" fill="#fff" stroke="#222" stroke-width="0.9"/>
<line x1="537.32" x2="537.32" y1="56.0" y2="111.0" stroke="#111" stroke-width="1"/>
<rect x="535.22" y="66.0" width="4.2" height="44.5" fill="#000"/>
<line x1="543.76" x2="543.76" y1="69.0" y2="121.0" stroke="#111" stroke-width="1"/>
<rect x="542.06" y="73.0" width="3.4" height="37.0" fill="#fff" stroke="#222" stroke-width="0.9"/>
<line x1="550.20" x2="550.20" y1="59.5" y2="122.0" stroke="#111" stroke-width="1"/>
<rect x="548.10" y="73.0" width="4.2" height="39.0" fill="#000"/>
<line x1="556.64" x2="556.64" y1="93.5" y2="125.0" stroke="#111" stroke-width="1"/>
<rect x="554.54" y="113.0" width="4.2" height="7.8" fill="#000"/>
<line x1="563.08" x2="563.08" y1="88.0" y2="122.5" stroke="#111" stroke-width="1"/>
<rect x="561.38" y="92.0" width="3.4" height="29.0" fill="#fff" stroke="#222" stroke-width="0.9"/>
<line x1="569.52" x2="569.52" y1="71.0" y2="104.0" stroke="#111" stroke-width="1"/>
<rect x="567.82" y="74.0" width="3.4" height="18.0" fill="#fff" stroke="#222" stroke-width="0.9"/>
<line x1="575.96" x2="575.96" y1="50.0" y2="89.5" stroke="#111" stroke-width="1"/>
<rect x="573.86" y="74.0" width="4.2" height="5.0" fill="#000"/>
<line x1="582.40" x2="582.40" y1="27.0" y2="82.0" stroke="#111" stroke-width="1"/>
<rect x="580.70" y="30.0" width="3.4" height="48.0" fill="#fff" stroke="#222" stroke-width="0.9"/>
<line x1="588.84" x2="588.84" y1="23.0" y2="46.0" stroke="#111" stroke-width="1"/>
<rect x="586.74" y="33.5" width="4.2" height="10.5" fill="#000"/>
</g>
<g clip-path="url(#d)">
<line x1="35.2" x2="35.2" y1="448" y2="526" stroke="#262626" stroke-width="1" stroke-dasharray="2.6 2.2" stroke-dashoffset="1.1"/>
<line x1="170.6" x2="170.6" y1="448" y2="526" stroke="#262626" stroke-width="1" stroke-dasharray="2.6 2.2" stroke-dashoffset="1.1"/>
<line x1="312.2" x2="312.2" y1="448" y2="526" stroke="#262626" stroke-width="1" stroke-dasharray="2.6 2.2" stroke-dashoffset="1.1"/>
<line x1="460.2" x2="460.2" y1="448" y2="526" stroke="#262626" stroke-width="1" stroke-dasharray="2.6 2.2" stroke-dashoffset="1.1"/>
<line x1="595.6" x2="595.6" y1="448" y2="526" stroke="#262626" stroke-width="1" stroke-dasharray="2.6 2.2" stroke-dashoffset="1.1"/>
<line x1="2.80" x2="2.80" y1="503.75" y2="504.8" stroke="#222" stroke-width="1.1"/>
<line x1="9.24" x2="9.24" y1="503.75" y2="504.6" stroke="#777" stroke-width="1.1"/>
<line x1="15.68" x2="15.68" y1="502.5" y2="503.75" stroke="#222" stroke-width="1.1"/>
<line x1="22.12" x2="22.12" y1="502.5" y2="503.75" stroke="#777" stroke-width="1.1"/>
<line x1="28.56" x2="28.56" y1="498" y2="503.75" stroke="#222" stroke-width="1.1"/>
<line x1="35.00" x2="35.00" y1="496" y2="503.75" stroke="#777" stroke-width="1.1"/>
<line x1="41.44" x2="41.44" y1="497" y2="503.75" stroke="#222" stroke-width="1.1"/>
<line x1="47.88" x2="47.88" y1="498" y2="503.75" stroke="#777" stroke-width="1.1"/>
<line x1="54.32" x2="54.32" y1="500" y2="503.75" stroke="#222" stroke-width="1.1"/>
<line x1="60.76" x2="60.76" y1="503.75" y2="504.55" stroke="#777" stroke-width="1.1"/>
<line x1="67.20" x2="67.20" y1="503.75" y2="504.55" stroke="#222" stroke-width="1.1"/>
<line x1="73.64" x2="73.64" y1="503.75" y2="505.5" stroke="#777" stroke-width="1.1"/>
<line x1="80.08" x2="80.08" y1="503.75" y2="508" stroke="#222" stroke-width="1.1"/>
<line x1="86.52" x2="86.52" y1="503.75" y2="511.75" stroke="#777" stroke-width="1.1"/>
<line x1="92.96" x2="92.96" y1="503.75" y2="514.5" stroke="#222" stroke-width="1.1"/>
<line x1="99.40" x2="99.40" y1="503.75" y2="520" stroke="#777" stroke-width="1.1"/>
<line x1="105.84" x2="105.84" y1="503.75" y2="521" stroke="#222" stroke-width="1.1"/>
<line x1="112.28" x2="112.28" y1="503.75" y2="520.5" stroke="#777" stroke-width="1.1"/>
<line x1="118.72" x2="118.72" y1="503.75" y2="520.5" stroke="#222" stroke-width="1.1"/>
<line x1="125.16" x2="125.16" y1="503.75" y2="521" stroke="#777" stroke-width="1.1"/>
<line x1="131.60" x2="131.60" y1="503.75" y2="522.5" stroke="#222" stroke-width="1.1"/>
<line x1="138.04" x2="138.04" y1="503.75" y2="522" stroke="#777" stroke-width="1.1"/>
<line x1="144.48" x2="144.48" y1="503.75" y2="518.75" stroke="#222" stroke-width="1.1"/>
<line x1="150.92" x2="150.92" y1="503.75" y2="517" stroke="#777" stroke-width="1.1"/>
<line x1="157.36" x2="157.36" y1="503.75" y2="514" stroke="#222" stroke-width="1.1"/>
<line x1="163.80" x2="163.80" y1="503.75" y2="511" stroke="#777" stroke-width="1.1"/>
<line x1="170.24" x2="170.24" y1="503.75" y2="507" stroke="#222" stroke-width="1.1"/>
<line x1="176.68" x2="176.68" y1="500" y2="503.75" stroke="#777" stroke-width="1.1"/>
<line x1="183.12" x2="183.12" y1="495" y2="503.75" stroke="#222" stroke-width="1.1"/>
<line x1="189.56" x2="189.56" y1="490" y2="503.75" stroke="#777" stroke-width="1.1"/>
<line x1="196.00" x2="196.00" y1="484.5" y2="503.75" stroke="#222" stroke-width="1.1"/>
<line x1="202.44" x2="202.44" y1="479.5" y2="503.75" stroke="#777" stroke-width="1.1"/>
<line x1="208.88" x2="208.88" y1="474.5" y2="503.75" stroke="#222" stroke-width="1.1"/>
<line x1="215.32" x2="215.32" y1="471" y2="503.75" stroke="#777" stroke-width="1.1"/>
<line x1="221.76" x2="221.76" y1="472.5" y2="503.75" stroke="#222" stroke-width="1.1"/>
<line x1="228.20" x2="228.20" y1="476" y2="503.75" stroke="#777" stroke-width="1.1"/>
<line x1="234.64" x2="234.64" y1="477.5" y2="503.75" stroke="#222" stroke-width="1.1"/>
<line x1="241.08" x2="241.08" y1="479.5" y2="503.75" stroke="#777" stroke-width="1.1"/>
<line x1="247.52" x2="247.52" y1="482" y2="503.75" stroke="#222" stroke-width="1.1"/>
<line x1="253.96" x2="253.96" y1="487" y2="503.75" stroke="#777" stroke-width="1.1"/>
<line x1="260.40" x2="260.40" y1="493" y2="503.75" stroke="#222" stroke-width="1.1"/>
<line x1="266.84" x2="266.84" y1="495.5" y2="503.75" stroke="#777" stroke-width="1.1"/>
<line x1="273.28" x2="273.28" y1="495.5" y2="503.75" stroke="#222" stroke-width="1.1"/>
<line x1="279.72" x2="279.72" y1="498.75" y2="503.75" stroke="#777" stroke-width="1.1"/>
<line x1="286.16" x2="286.16" y1="500.75" y2="503.75" stroke="#222" stroke-width="1.1"/>
<line x1="292.60" x2="292.60" y1="502.5" y2="503.75" stroke="#777" stroke-width="1.1"/>
<line x1="299.04" x2="299.04" y1="503.75" y2="508" stroke="#222" stroke-width="1.1"/>
<line x1="305.48" x2="305.48" y1="503.75" y2="508.75" stroke="#777" stroke-width="1.1"/>
<line x1="311.92" x2="311.92" y1="503.75" y2="510" stroke="#222" stroke-width="1.1"/>
<line x1="318.36" x2="318.36" y1="503.75" y2="506" stroke="#777" stroke-width="1.1"/>
<line x1="324.80" x2="324.80" y1="503.75" y2="505" stroke="#222" stroke-width="1.1"/>
<line x1="331.24" x2="331.24" y1="503.75" y2="504.55" stroke="#777" stroke-width="1.1"/>
<line x1="337.68" x2="337.68" y1="502" y2="503.75" stroke="#222" stroke-width="1.1"/>
<line x1="344.12" x2="344.12" y1="499" y2="503.75" stroke="#777" stroke-width="1.1"/>
<line x1="350.56" x2="350.56" y1="496" y2="503.75" stroke="#222" stroke-width="1.1"/>
<line x1="357.00" x2="357.00" y1="494" y2="503.75" stroke="#777" stroke-width="1.1"/>
<line x1="363.44" x2="363.44" y1="494" y2="503.75" stroke="#222" stroke-width="1.1"/>
<line x1="369.88" x2="369.88" y1="494" y2="503.75" stroke="#777" stroke-width="1.1"/>
<line x1="376.32" x2="376.32" y1="493" y2="503.75" stroke="#222" stroke-width="1.1"/>
<line x1="382.76" x2="382.76" y1="493.75" y2="503.75" stroke="#777" stroke-width="1.1"/>
<line x1="389.20" x2="389.20" y1="493.75" y2="503.75" stroke="#222" stroke-width="1.1"/>
<line x1="395.64" x2="395.64" y1="491" y2="503.75" stroke="#777" stroke-width="1.1"/>
<line x1="402.08" x2="402.08" y1="488" y2="503.75" stroke="#222" stroke-width="1.1"/>
<line x1="408.52" x2="408.52" y1="485.75" y2="503.75" stroke="#777" stroke-width="1.1"/>
<line x1="414.96" x2="414.96" y1="484" y2="503.75" stroke="#222" stroke-width="1.1"/>
<line x1="421.40" x2="421.40" y1="482" y2="503.75" stroke="#777" stroke-width="1.1"/>
<line x1="427.84" x2="427.84" y1="477.5" y2="503.75" stroke="#222" stroke-width="1.1"/>
<line x1="434.28" x2="434.28" y1="473" y2="503.75" stroke="#777" stroke-width="1.1"/>
<line x1="440.72" x2="440.72" y1="468.75" y2="503.75" stroke="#222" stroke-width="1.1"/>
<line x1="447.16" x2="447.16" y1="463" y2="503.75" stroke="#777" stroke-width="1.1"/>
<line x1="453.60" x2="453.60" y1="458.75" y2="503.75" stroke="#222" stroke-width="1.1"/>
<line x1="460.04" x2="460.04" y1="455.75" y2="503.75" stroke="#777" stroke-width="1.1"/>
<line x1="466.48" x2="466.48" y1="455.75" y2="503.75" stroke="#222" stroke-width="1.1"/>
<line x1="472.92" x2="472.92" y1="454.5" y2="503.75" stroke="#777" stroke-width="1.1"/>
<line x1="479.36" x2="479.36" y1="453.75" y2="503.75" stroke="#222" stroke-width="1.1"/>
<line x1="485.80" x2="485.80" y1="455.3" y2="503.75" stroke="#777" stroke-width="1.1"/>
<line x1="492.24" x2="492.24" y1="456.7" y2="503.75" stroke="#222" stroke-width="1.1"/>
<line x1="498.68" x2="498.68" y1="459" y2="503.75" stroke="#777" stroke-width="1.1"/>
<line x1="505.12" x2="505.12" y1="461.7" y2="503.75" stroke="#222" stroke-width="1.1"/>
<line x1="511.56" x2="511.56" y1="464.5" y2="503.75" stroke="#777" stroke-width="1.1"/>
<line x1="518.00" x2="518.00" y1="465.6" y2="503.75" stroke="#222" stroke-width="1.1"/>
<line x1="524.44" x2="524.44" y1="466.4" y2="503.75" stroke="#777" stroke-width="1.1"/>
<line x1="530.88" x2="530.88" y1="464.5" y2="503.75" stroke="#222" stroke-width="1.1"/>
<line x1="537.32" x2="537.32" y1="466.4" y2="503.75" stroke="#777" stroke-width="1.1"/>
<line x1="543.76" x2="543.76" y1="465.9" y2="503.75" stroke="#222" stroke-width="1.1"/>
<line x1="550.20" x2="550.20" y1="469.2" y2="503.75" stroke="#777" stroke-width="1.1"/>
<line x1="556.64" x2="556.64" y1="472" y2="503.75" stroke="#222" stroke-width="1.1"/>
<line x1="563.08" x2="563.08" y1="473.4" y2="503.75" stroke="#777" stroke-width="1.1"/>
<line x1="569.52" x2="569.52" y1="472.5" y2="503.75" stroke="#222" stroke-width="1.1"/>
<line x1="575.96" x2="575.96" y1="472.8" y2="503.75" stroke="#777" stroke-width="1.1"/>
<line x1="582.40" x2="582.40" y1="468.7" y2="503.75" stroke="#222" stroke-width="1.1"/>
<line x1="588.84" x2="588.84" y1="467.8" y2="503.75" stroke="#777" stroke-width="1.1"/>
<polyline points="2.0,501.5 15.0,502.0 28.0,502.5 40.0,502.0 50.0,501.0 60.0,500.0 75.0,500.0 82.0,501.0 90.0,503.5 100.0,508.0 110.0,512.0 120.0,516.0 130.0,519.0 138.0,521.0 145.0,521.5 155.0,521.0 166.0,519.5 170.0,518.0 180.0,514.0 190.0,509.0 200.0,503.0 210.0,496.0 220.0,489.0 230.0,484.0 240.0,480.0 250.0,478.0 255.0,478.0 260.0,479.0 270.0,483.0 280.0,488.0 290.0,493.0 300.0,498.0 310.0,501.5 320.0,504.0 330.0,505.0 340.0,505.5 345.0,505.0 355.0,502.5 365.0,500.0 375.0,498.0 385.0,496.5 395.0,495.0 405.0,493.0 415.0,491.0 425.0,488.5 435.0,485.0 445.0,480.0 455.0,474.5 465.0,469.0 475.0,464.0 480.0,461.0 490.0,458.5 500.0,457.0 505.0,456.5 515.0,458.0 525.0,460.0 535.0,462.0 545.0,464.0 555.0,466.0 565.0,467.5 575.0,468.5 585.0,469.0 589.0,469.0" fill="none" stroke="#ff2020" stroke-width="1.1"/>
</g>
<path d="M2 447 V2 H628.6" fill="none" stroke="#808080" stroke-width="1.3"/>
<line x1="1.4" x2="629" y1="446.5" y2="446.5" stroke="#7c7c7c" stroke-width="1.1"/>
<line x1="1.4" x2="629" y1="448.3" y2="448.3" stroke="#1c1c1c" stroke-width="1.3"/>
<line x1="2" x2="2" y1="448" y2="526" stroke="#808080" stroke-width="1.3"/>
<line x1="1.4" x2="629" y1="525.7" y2="525.7" stroke="#2a2a2a" stroke-width="1.1"/>
<line x1="628.6" x2="628.6" y1="1.5" y2="526" stroke="#111" stroke-width="1.1"/>
<line x1="629" x2="630.7" y1="20.0" y2="20.0" stroke="#222" stroke-width="1"/>
<text x="633.2" y="22.8" font-size="7.5" fill="#161616" textLength="26" lengthAdjust="spacingAndGlyphs">1.33800</text>
<line x1="629" x2="630.7" y1="46.5" y2="46.5" stroke="#222" stroke-width="1"/>
<text x="633.2" y="49.3" font-size="7.5" fill="#161616" textLength="26" lengthAdjust="spacingAndGlyphs">1.32975</text>
<line x1="629" x2="630.7" y1="73.0" y2="73.0" stroke="#222" stroke-width="1"/>
<text x="633.2" y="75.8" font-size="7.5" fill="#161616" textLength="26" lengthAdjust="spacingAndGlyphs">1.32125</text>
<line x1="629" x2="630.7" y1="99.5" y2="99.5" stroke="#222" stroke-width="1"/>
<text x="633.2" y="102.3" font-size="7.5" fill="#161616" textLength="26" lengthAdjust="spacingAndGlyphs">1.31300</text>
<line x1="629" x2="630.7" y1="126.0" y2="126.0" stroke="#222" stroke-width="1"/>
<text x="633.2" y="128.8" font-size="7.5" fill="#161616" textLength="26" lengthAdjust="spacingAndGlyphs">1.30475</text>
<line x1="629" x2="630.7" y1="152.5" y2="152.5" stroke="#222" stroke-width="1"/>
<text x="633.2" y="155.3" font-size="7.5" fill="#161616" textLength="26" lengthAdjust="spacingAndGlyphs">1.29625</text>
<line x1="629" x2="630.7" y1="179.0" y2="179.0" stroke="#222" stroke-width="1"/>
<text x="633.2" y="181.8" font-size="7.5" fill="#161616" textLength="26" lengthAdjust="spacingAndGlyphs">1.28800</text>
<line x1="629" x2="630.7" y1="205.5" y2="205.5" stroke="#222" stroke-width="1"/>
<text x="633.2" y="208.3" font-size="7.5" fill="#161616" textLength="26" lengthAdjust="spacingAndGlyphs">1.27975</text>
<line x1="629" x2="630.7" y1="232.0" y2="232.0" stroke="#222" stroke-width="1"/>
<text x="633.2" y="234.8" font-size="7.5" fill="#161616" textLength="26" lengthAdjust="spacingAndGlyphs">1.27125</text>
<line x1="629" x2="630.7" y1="258.5" y2="258.5" stroke="#222" stroke-width="1"/>
<text x="633.2" y="261.3" font-size="7.5" fill="#161616" textLength="26" lengthAdjust="spacingAndGlyphs">1.26300</text>
<line x1="629" x2="630.7" y1="285.0" y2="285.0" stroke="#222" stroke-width="1"/>
<text x="633.2" y="287.8" font-size="7.5" fill="#161616" textLength="26" lengthAdjust="spacingAndGlyphs">1.25450</text>
<line x1="629" x2="630.7" y1="311.5" y2="311.5" stroke="#222" stroke-width="1"/>
<text x="633.2" y="314.3" font-size="7.5" fill="#161616" textLength="26" lengthAdjust="spacingAndGlyphs">1.24625</text>
<line x1="629" x2="630.7" y1="338.0" y2="338.0" stroke="#222" stroke-width="1"/>
<text x="633.2" y="340.8" font-size="7.5" fill="#161616" textLength="26" lengthAdjust="spacingAndGlyphs">1.23800</text>
<line x1="629" x2="630.7" y1="364.5" y2="364.5" stroke="#222" stroke-width="1"/>
<text x="633.2" y="367.3" font-size="7.5" fill="#161616" textLength="26" lengthAdjust="spacingAndGlyphs">1.22975</text>
<line x1="629" x2="630.7" y1="391.0" y2="391.0" stroke="#222" stroke-width="1"/>
<text x="633.2" y="393.8" font-size="7.5" fill="#161616" textLength="26" lengthAdjust="spacingAndGlyphs">1.22125</text>
<line x1="629" x2="630.7" y1="417.5" y2="417.5" stroke="#222" stroke-width="1"/>
<text x="633.2" y="420.3" font-size="7.5" fill="#161616" textLength="26" lengthAdjust="spacingAndGlyphs">1.21300</text>
<line x1="629" x2="630.7" y1="444.0" y2="444.0" stroke="#222" stroke-width="1"/>
<text x="633.2" y="446.8" font-size="7.5" fill="#161616" textLength="26" lengthAdjust="spacingAndGlyphs">1.20475</text>
<rect x="629.5" y="52" width="33.2" height="8.0" fill="#480c94"/>
<text x="633.2" y="58.7" font-size="7.5" fill="#fff" textLength="26" lengthAdjust="spacingAndGlyphs">1.32650</text>
<rect x="629.5" y="46.5" width="33.2" height="8.2" fill="#480c94"/>
<text x="633.2" y="53.2" font-size="7.5" fill="#fff" textLength="26" lengthAdjust="spacingAndGlyphs">1.32827</text>
<rect x="629.5" y="39.5" width="33.2" height="7.2" fill="#000"/>
<text x="633.2" y="45.9" font-size="7.5" fill="#fff" textLength="26" lengthAdjust="spacingAndGlyphs">1.33034</text>
<rect x="629.5" y="77.4" width="33.2" height="8.4" fill="#8a0e0e"/>
<text x="633.2" y="84.4" font-size="7.5" fill="#fff" textLength="26" lengthAdjust="spacingAndGlyphs">1.31840</text>
<rect x="629.5" y="142.5" width="33.2" height="7.5" fill="#121286"/>
<text x="633.2" y="149.0" font-size="7.5" fill="#fff" textLength="26" lengthAdjust="spacingAndGlyphs">1.29800</text>
<rect x="629.5" y="135.2" width="33.2" height="9.4" fill="#121286"/>
<text x="633.2" y="142.5" font-size="7.5" fill="#fff" textLength="26" lengthAdjust="spacingAndGlyphs">1.30000</text>
<rect x="629.5" y="196" width="33.2" height="8.0" fill="#8a0e0e"/>
<text x="633.2" y="202.8" font-size="7.5" fill="#fff" textLength="26" lengthAdjust="spacingAndGlyphs">1.28110</text>
<rect x="629.5" y="236.6" width="33.2" height="7.9" fill="#3d3a9e"/>
<text x="633.2" y="243.3" font-size="7.5" fill="#fff" textLength="26" lengthAdjust="spacingAndGlyphs">1.26860</text>
<rect x="629.5" y="282.6" width="33.2" height="8.4" fill="#480c94"/>
<text x="633.2" y="289.9" font-size="7.5" fill="#fff" textLength="26" lengthAdjust="spacingAndGlyphs">1.25360</text>
<rect x="629.5" y="286.8" width="33.2" height="7.8" fill="#480c94"/>
<text x="633.2" y="293.4" font-size="7.5" fill="#fff" textLength="26" lengthAdjust="spacingAndGlyphs">1.25280</text>
<rect x="629.5" y="327" width="33.2" height="8.0" fill="#b03030"/>
<text x="633.2" y="333.9" font-size="7.5" fill="#fff" textLength="26" lengthAdjust="spacingAndGlyphs">1.24003</text>
<rect x="629.5" y="347.8" width="33.2" height="8.2" fill="#480c94"/>
<text x="633.2" y="354.7" font-size="7.5" fill="#fff" textLength="26" lengthAdjust="spacingAndGlyphs">1.23340</text>
<rect x="629.5" y="374.2" width="33.2" height="8.2" fill="#480c94"/>
<text x="633.2" y="381.1" font-size="7.5" fill="#fff" textLength="26" lengthAdjust="spacingAndGlyphs">1.22500</text>
<rect x="629.5" y="402" width="33.2" height="7.8" fill="#b03030"/>
<text x="633.2" y="408.7" font-size="7.5" fill="#fff" textLength="26" lengthAdjust="spacingAndGlyphs">1.21650</text>
<rect x="629.5" y="431" width="33.2" height="7.8" fill="#b03030"/>
<text x="633.2" y="437.7" font-size="7.5" fill="#fff" textLength="26" lengthAdjust="spacingAndGlyphs">1.20730</text>
<text x="631.2" y="456.8" font-size="7.5" fill="#161616" textLength="30.3" lengthAdjust="spacingAndGlyphs">0.016876</text>
<line x1="629" x2="630.7" y1="504.2" y2="504.2" stroke="#222" stroke-width="1"/>
<text x="631.2" y="507.0" font-size="7.5" fill="#161616" textLength="14.1" lengthAdjust="spacingAndGlyphs">0.00</text>
<line x1="629" x2="630.7" y1="521" y2="521" stroke="#222" stroke-width="1"/>
<text x="631.8" y="523.8" font-size="7.5" fill="#161616" textLength="32.4" lengthAdjust="spacingAndGlyphs">-0.006989</text>
<path d="M5.2 7.3 H10.6 L7.9 10.3 Z" fill="#000"/>
<text x="15" y="11" font-size="7.5" fill="#161616" textLength="50.6" lengthAdjust="spacingAndGlyphs">GBPUSD,Daily</text>
<text x="71.5" y="11" font-size="7.5" fill="#161616" textLength="113" lengthAdjust="spacingAndGlyphs">1.33358 1.33667 1.32997 1.33034</text>
<text x="5.8" y="457.9" font-size="7.5" fill="#161616" textLength="119" lengthAdjust="spacingAndGlyphs">MACD(12,26,9) 0.011180 0.010713</text>
<line x1="2.5" x2="2.5" y1="526" y2="528.6" stroke="#222" stroke-width="1"/>
<text x="2" y="536.8" font-size="7.5" fill="#161616" textLength="40.7" lengthAdjust="spacingAndGlyphs">24 Apr 2020</text>
<line x1="54.0" x2="54.0" y1="526" y2="528.6" stroke="#222" stroke-width="1"/>
<text x="53.3" y="536.8" font-size="7.5" fill="#161616" textLength="39.3" lengthAdjust="spacingAndGlyphs">6 May 2020</text>
<line x1="105.5" x2="105.5" y1="526" y2="528.6" stroke="#222" stroke-width="1"/>
<text x="105.5" y="536.8" font-size="7.5" fill="#161616" textLength="42.5" lengthAdjust="spacingAndGlyphs">18 May 2020</text>
<line x1="157.0" x2="157.0" y1="526" y2="528.6" stroke="#222" stroke-width="1"/>
<text x="158" y="536.8" font-size="7.5" fill="#161616" textLength="42.5" lengthAdjust="spacingAndGlyphs">28 May 2020</text>
<line x1="208.5" x2="208.5" y1="526" y2="528.6" stroke="#222" stroke-width="1"/>
<text x="207.5" y="536.8" font-size="7.5" fill="#161616" textLength="35" lengthAdjust="spacingAndGlyphs">9 Jun 2020</text>
<line x1="260.0" x2="260.0" y1="526" y2="528.6" stroke="#222" stroke-width="1"/>
<text x="259.5" y="536.8" font-size="7.5" fill="#161616" textLength="40" lengthAdjust="spacingAndGlyphs">19 Jun 2020</text>
<line x1="311.5" x2="311.5" y1="526" y2="528.6" stroke="#222" stroke-width="1"/>
<text x="311" y="536.8" font-size="7.5" fill="#161616" textLength="35" lengthAdjust="spacingAndGlyphs">1 Jul 2020</text>
<line x1="363.0" x2="363.0" y1="526" y2="528.6" stroke="#222" stroke-width="1"/>
<text x="362.5" y="536.8" font-size="7.5" fill="#161616" textLength="40" lengthAdjust="spacingAndGlyphs">13 Jul 2020</text>
<line x1="414.5" x2="414.5" y1="526" y2="528.6" stroke="#222" stroke-width="1"/>
<text x="414.5" y="536.8" font-size="7.5" fill="#161616" textLength="37" lengthAdjust="spacingAndGlyphs">23 Jul 2020</text>
<line x1="466.0" x2="466.0" y1="526" y2="528.6" stroke="#222" stroke-width="1"/>
<text x="466" y="536.8" font-size="7.5" fill="#161616" textLength="37.6" lengthAdjust="spacingAndGlyphs">4 Aug 2020</text>
<line x1="517.5" x2="517.5" y1="526" y2="528.6" stroke="#222" stroke-width="1"/>
<text x="517.5" y="536.8" font-size="7.5" fill="#161616" textLength="42.5" lengthAdjust="spacingAndGlyphs">14 Aug 2020</text>
<line x1="569.0" x2="569.0" y1="526" y2="528.6" stroke="#222" stroke-width="1"/>
<text x="569" y="536.8" font-size="7.5" fill="#161616" textLength="41.7" lengthAdjust="spacingAndGlyphs">26 Aug 2020</text>
<defs><linearGradient id="wm" x1="0" y1="0" x2="0" y2="1"><stop offset="0" stop-color="#e3666d"/><stop offset="0.75" stop-color="#e3666d"/><stop offset="1" stop-color="#dc5c64"/></linearGradient></defs>
<rect x="243.2" y="511.1" width="179.8" height="31.3" rx="1.5" fill="#f9f9f9"/>
<rect x="244.3" y="512.2" width="177.6" height="29" rx="1" fill="url(#wm)"/>
<text x="290" y="533.6" font-size="20" fill="#fff" stroke="#e3666d" stroke-width="0.35" textLength="85" lengthAdjust="spacingAndGlyphs">instaforex</text>
</svg>
</body></html>
